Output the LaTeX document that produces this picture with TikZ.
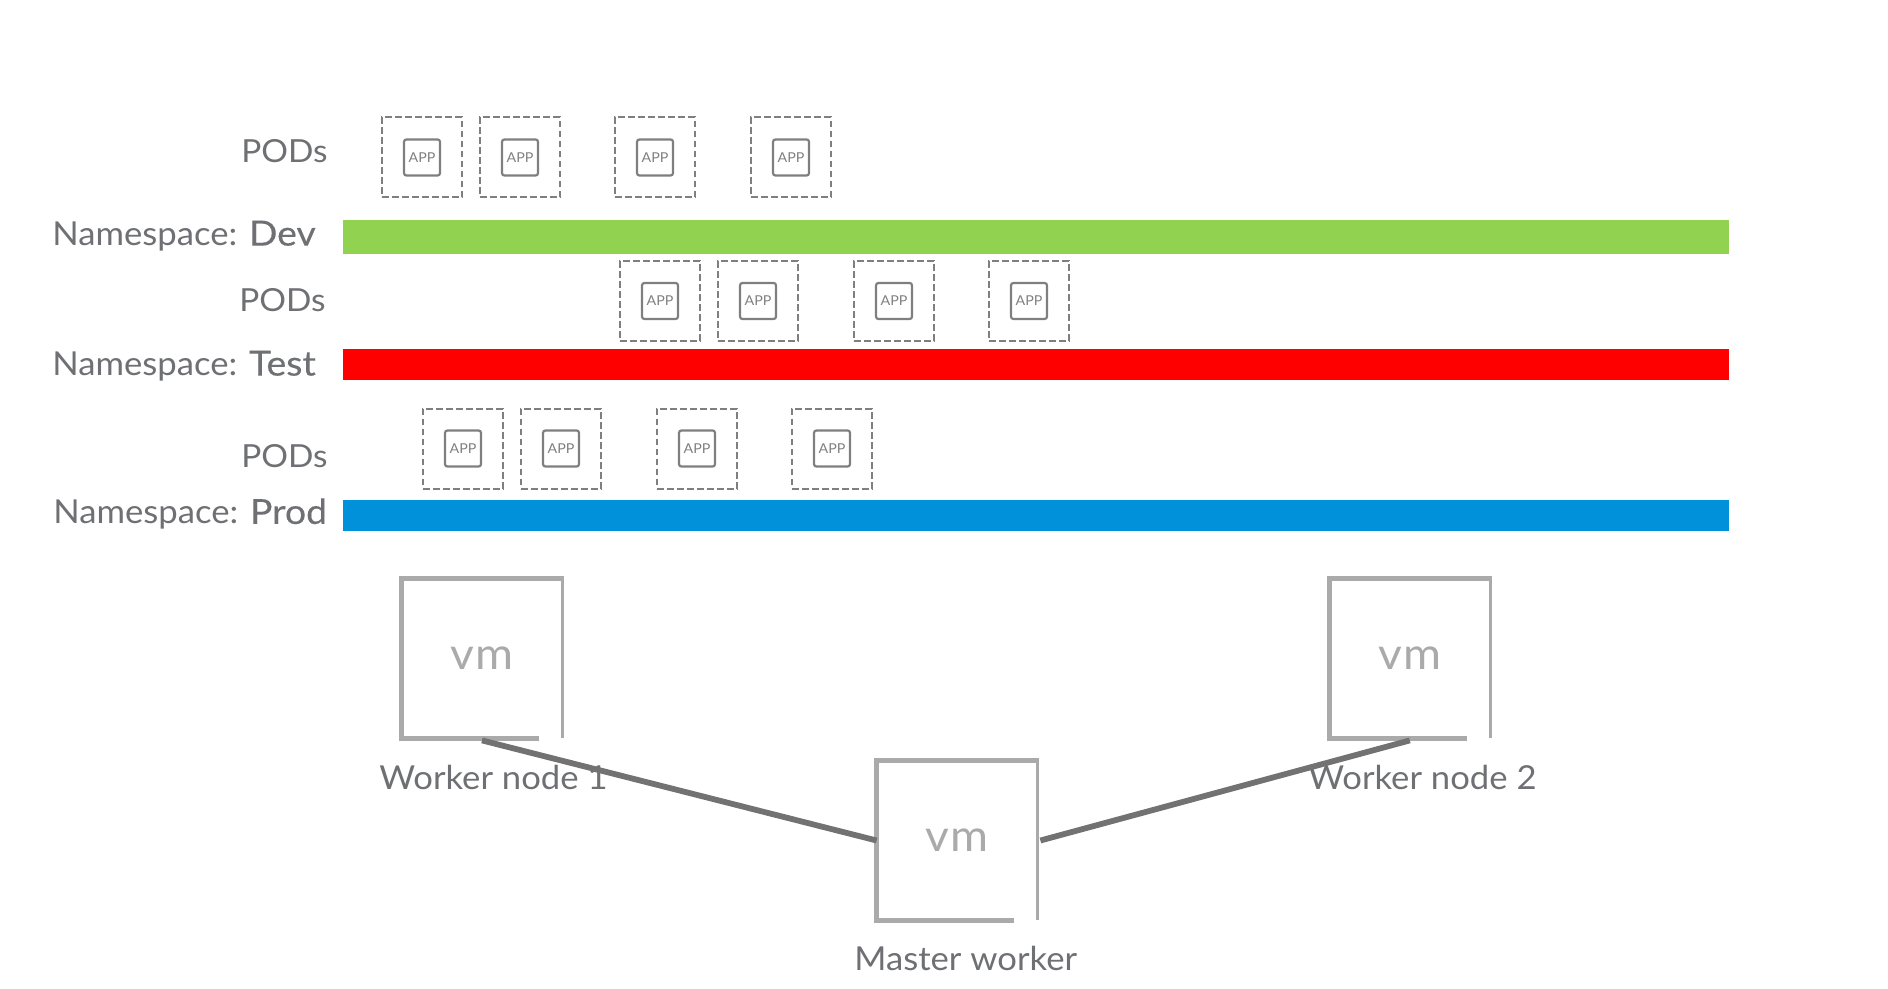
\documentclass[tikz,border=0pt]{standalone}
\usepackage{fontspec}
\setmainfont[FakeStretch=1.05]{Lato}
\newfontfamily\mediumfont[FakeStretch=1.08,FakeBold=0.35]{Lato}
\usepackage{xcolor}
\usetikzlibrary{calc,positioning}

\definecolor{labelgray}{HTML}{6F7074}
\definecolor{vmgray}{HTML}{AAAAAA}
\definecolor{podgray}{HTML}{7F7F7F}
\definecolor{linegray}{HTML}{727272}
\definecolor{devgreen}{HTML}{91D250}
\definecolor{prodblue}{HTML}{0091DA}

\tikzset{
    label text/.style={font=\fontsize{16.5}{18}\selectfont,text=labelgray,inner sep=0pt},
    pods text/.style={label text,font=\fontsize{15.9}{18}\selectfont},
    pod frame/.style={draw=podgray,dash pattern=on 3.4pt off 1.6pt,line width=1pt,minimum size=40pt,inner sep=0pt},
    app box/.style={draw=podgray,line width=1.1pt,rounded corners=1.2pt,minimum size=18pt,inner sep=0pt,
        font=\fontsize{6.8}{7}\selectfont,text=podgray},
    vm box/.style={minimum width=80pt,minimum height=79.5pt,inner sep=0pt,text=vmgray,font=\fontsize{22}{24}\selectfont},
    vm link/.style={draw=linegray,line width=2.9pt}
}

\newcommand{\vmframe}[1]{%
    \draw[vmgray,line width=2.4pt]
        ($(#1.south east)+(-11.5pt,0)$) -- (#1.south west) -- (#1.north west) -- ($(#1.north east)+(0.85pt,0)$);
    \draw[vmgray,line width=1.7pt]
        ($(#1.north east)+(0,1.2pt)$) -- ($(#1.south east)+(0,0.3pt)$);
}
\newcommand{\vmlabel}{v\kern0.7pt m}
\newcommand{\nsname}[1]{{\mediumfont\fontsize{17.3}{18}\selectfont #1}}

\begin{document}
\begin{tikzpicture}[
    x=0.5pt,
    y=-0.5pt
]

\useasboundingbox (0,0) rectangle (1888,989);

% ---------------------------------------------------------
% Namespace bars
% ---------------------------------------------------------

\fill[devgreen] (343,220) rectangle (1729,254);
\fill[red] (343,349) rectangle (1729,380);
\fill[prodblue] (343,500) rectangle (1729,531);

\node[label text,anchor=west] (nsdev) at (52,236) {Namespace: \nsname{Dev}};
\node[label text,anchor=west] (nstest) at (52,366) {Namespace: \nsname{Test}};
\node[label text,anchor=west] (nsprod) at (53,514) {Namespace: \nsname{Prod}};

% ---------------------------------------------------------
% PODs
% ---------------------------------------------------------

\node[pods text,anchor=east] (podsdev) at (328,151) {PODs};
\node[pods text,anchor=east] (podstest) at (326,300) {PODs};
\node[pods text,anchor=east] (podsprod) at (328,456) {PODs};

\foreach \xx in {422,520,655,791}{
    \node[pod frame] at (\xx,157.5) {};
    \node[app box] at (\xx,157.5) {APP};
}

\foreach \xx in {660,758,894,1029}{
    \node[pod frame] at (\xx,301) {};
    \node[app box] at (\xx,301) {APP};
}

\foreach \xx in {463,561,697,832}{
    \node[pod frame] at (\xx,448.5) {};
    \node[app box] at (\xx,448.5) {APP};
}

% ---------------------------------------------------------
% Virtual machines
% ---------------------------------------------------------

\node[vm box] (vmone) at (482,658.5) {\vmlabel};
\node[vm box] (vmtwo) at (1409.8,658.5) {\vmlabel};
\node[vm box] (vmmaster) at (957,840.5) {\vmlabel};

\vmframe{vmone}
\vmframe{vmtwo}
\vmframe{vmmaster}

\node[label text,anchor=west] (workerone) at (379,777) {Worker node 1};
\node[label text,anchor=west] (workertwo) at (1308,777) {Worker node 2};
\node[label text,anchor=west] (masterworker) at (854,958) {Master worker};

% Links
\draw[vm link] ($(vmone.south)+(0,-1pt)$) -- (vmmaster.west);
\draw[vm link] ($(vmtwo.south)+(0,-1pt)$) -- ($(vmmaster.east)+(1.5pt,0)$);

\end{tikzpicture}
\end{document}
